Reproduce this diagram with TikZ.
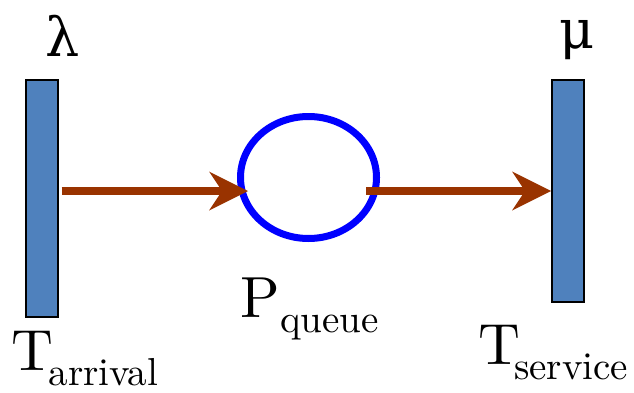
\documentclass[tikz,border=0pt]{standalone}
\usepackage{fontspec}
\newfontfamily\labelfont{lmroman10-regular.otf}
\newfontfamily\greekfont{DejaVu Serif}
\usetikzlibrary{arrows.meta, positioning, shapes.geometric, calc}
\definecolor{cbar}{HTML}{4F81BD}
\definecolor{cflow}{HTML}{993300}
\definecolor{cplace}{HTML}{0000FF}
\newcommand{\lowtext}[1]{\raisebox{-15pt}{\fontsize{39}{42}\selectfont #1}}
\tikzset{
  trans/.style={draw=black, fill=cbar, line width=2pt, minimum width=32pt, inner sep=0pt},
  place/.style={ellipse, draw=cplace, line width=7pt, minimum width=136pt, minimum height=122pt, inner sep=0pt},
  flow/.style={-{Stealth[length=39pt, width=39pt, inset=13pt, line width=0pt]}, draw=cflow, line width=8pt},
  lbl/.style={font=\labelfont\fontsize{58}{62}\selectfont, inner sep=0pt},
  rate/.style={font=\greekfont\fontsize{54}{58}\selectfont, inner sep=0pt},
}

\begin{document}
\begin{tikzpicture}[x=1pt, y=1pt]
  \useasboundingbox (0,0) rectangle (634,392);
  % transitions and the place
  \node[trans, minimum height=237pt] (ta) at (41.5,193.5) {};
  \node[trans, minimum height=222pt] (ts) at (568,201) {};
  \node[place] (pq) at (308.5,214.5) {};
  % arcs
  \draw[flow] ($(ta.east |- ts.west)+(3,0)$) -- ($(pq.west |- ts.west)+(11,0)$);
  \draw[flow] ($(pq.east |- ts.west)+(-14,0)$) -- (ts.west);
  % rates
  \node[rate, anchor=base] (lam) at ([xshift=21pt, yshift=23pt]ta.north) {λ};
  \node[rate, anchor=base] (mu) at ([xshift=9pt, yshift=31pt]ts.north) {μ};
  % names
  \node[lbl, anchor=base west] (tarr) at ([xshift=-30pt, yshift=-52pt]ta.south) {T\kern-5pt\lowtext{arrival}};
  \node[lbl, anchor=base west] (pque) at ([xshift=-68pt, yshift=-75pt]pq.south) {P\lowtext{queue}};
  \node[lbl, anchor=base west] (tser) at ([xshift=-90pt, yshift=-61pt]ts.south) {T\kern-6pt\lowtext{service}};
\end{tikzpicture}
\end{document}
